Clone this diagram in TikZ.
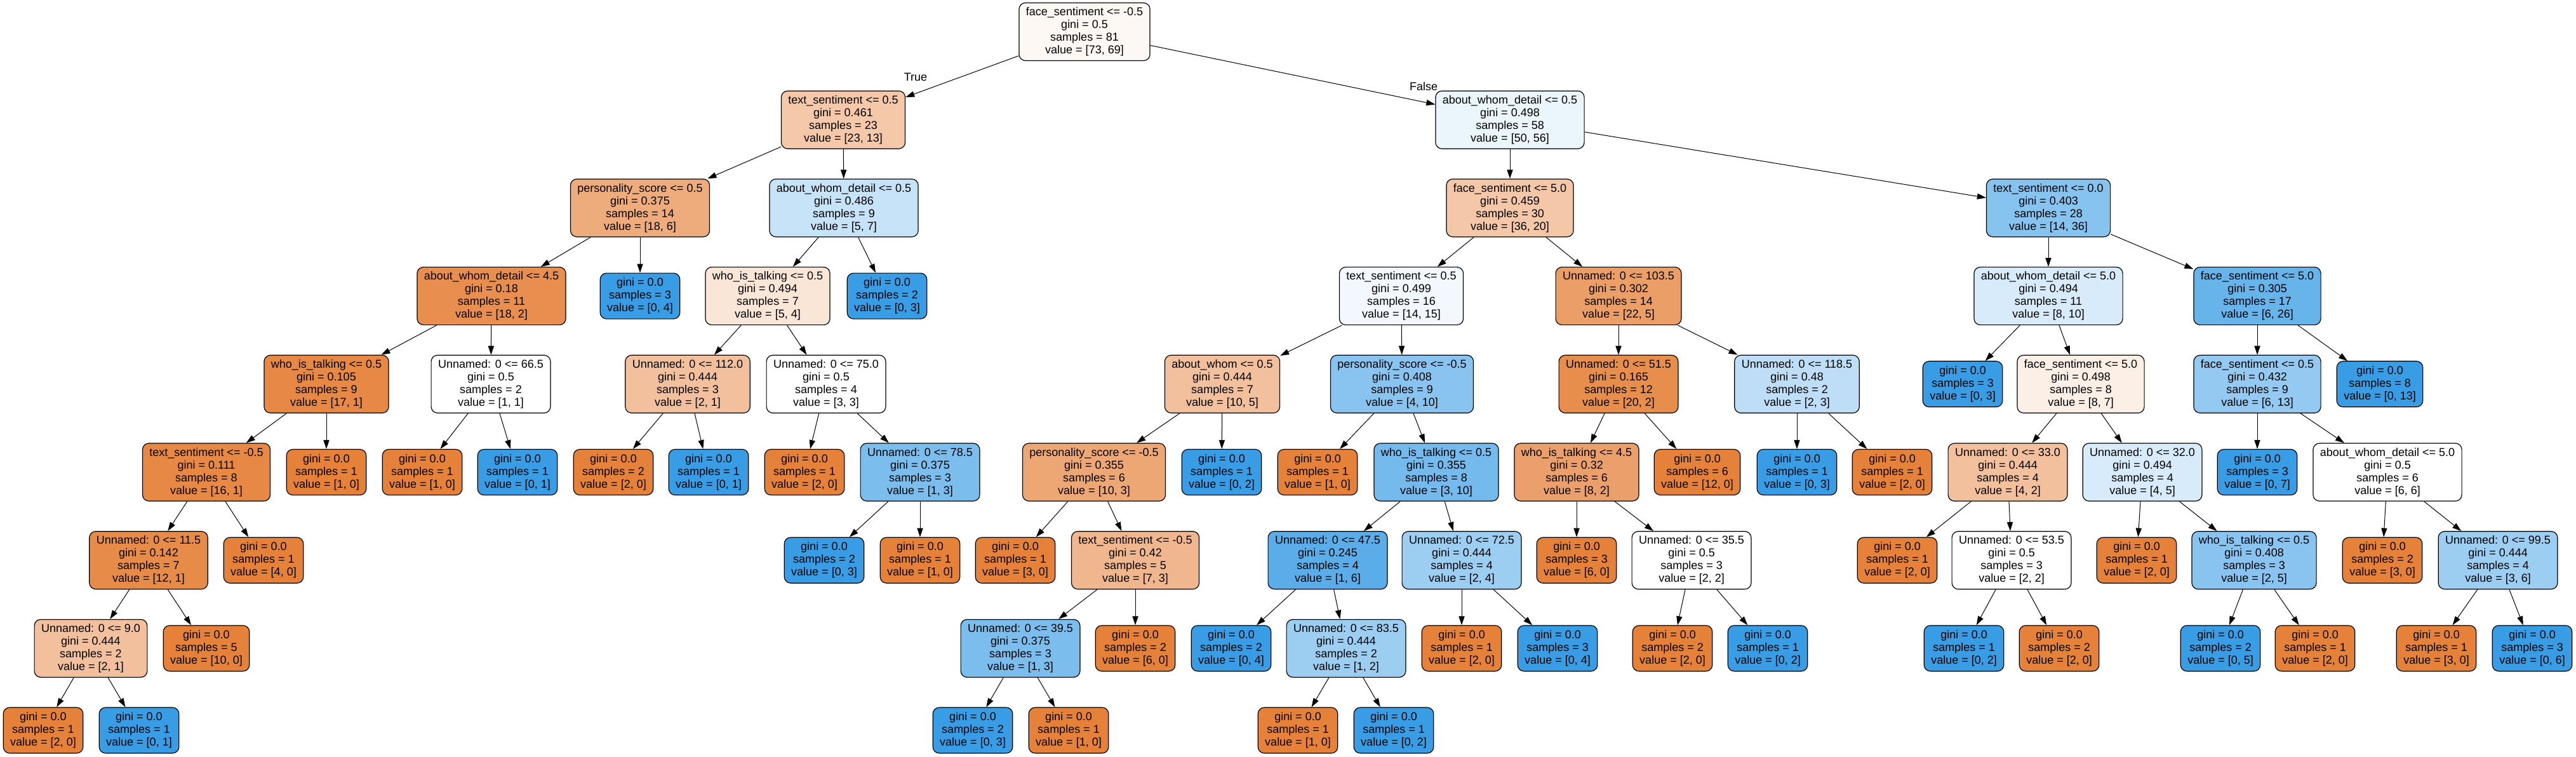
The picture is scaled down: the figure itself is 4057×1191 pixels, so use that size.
\documentclass[tikz,border=0pt]{standalone}
\usepackage{fontspec}
\setmainfont{Liberation Sans}
\usetikzlibrary{arrows.meta}
\definecolor{oc}{RGB}{229,129,57}
\definecolor{bc}{RGB}{57,157,229}
\begin{document}
\begin{tikzpicture}[x=0.5pt,y=-0.5pt,
  tn/.style={draw=black, line width=0.6pt, rounded corners=5pt, align=center,
    inner xsep=5.5pt, inner ysep=0pt, font=\fontsize{9}{10}\selectfont},
  split/.style={tn, minimum height=45.5pt},
  leafn/.style={tn, minimum height=36pt},
  fo/.style={fill=oc!#1!white},
  fb/.style={fill=bc!#1!white},
  arr/.style={-{Triangle[length=7pt,width=4.6pt]}, line width=0.5pt},
  lab/.style={font=\fontsize{9}{10}\selectfont, inner sep=0pt}]
\useasboundingbox (0,0) rectangle (4057,1191);
\fill[white] (0,0) rectangle (4057,1191);
% level 0
\node[split,fo=5.48] (n0) at (1708,50) {face\_sentiment <= -0.5\\gini = 0.5\\samples = 81\\value = [73, 69]};
% level 1
\node[split,fo=43.48] (n1) at (1328,188.7) {text\_sentiment <= 0.5\\gini = 0.461\\samples = 23\\value = [23, 13]};
\node[split,fb=10.71] (n2) at (2378,188.7) {about\_whom\_detail <= 0.5\\gini = 0.498\\samples = 58\\value = [50, 56]};
% level 2
\node[split,fo=66.67] (n3) at (1008,327.4) {personality\_score <= 0.5\\gini = 0.375\\samples = 14\\value = [18, 6]};
\node[split,fb=28.57] (n4) at (1329,327.4) {about\_whom\_detail <= 0.5\\gini = 0.486\\samples = 9\\value = [5, 7]};
\node[split,fo=44.44] (n5) at (2378,327.4) {face\_sentiment <= 5.0\\gini = 0.459\\samples = 30\\value = [36, 20]};
\node[split,fb=61.11] (n6) at (3226,327.4) {text\_sentiment <= 0.0\\gini = 0.403\\samples = 28\\value = [14, 36]};
% level 3
\node[split,fo=88.89] (n7) at (774,466.1) {about\_whom\_detail <= 4.5\\gini = 0.18\\samples = 11\\value = [18, 2]};
\node[leafn,fb=100] (n8) at (1008,466.1) {gini = 0.0\\samples = 3\\value = [0, 4]};
\node[split,fo=20] (n9) at (1209,466.1) {who\_is\_talking <= 0.5\\gini = 0.494\\samples = 7\\value = [5, 4]};
\node[leafn,fb=100] (n10) at (1397,466.1) {gini = 0.0\\samples = 2\\value = [0, 3]};
\node[split,fb=6.67] (n11) at (2207,466.1) {text\_sentiment <= 0.5\\gini = 0.499\\samples = 16\\value = [14, 15]};
\node[split,fo=77.27] (n12) at (2549,466.1) {Unnamed: 0 <= 103.5\\gini = 0.302\\samples = 14\\value = [22, 5]};
\node[split,fb=20] (n13) at (3226,466.1) {about\_whom\_detail <= 5.0\\gini = 0.494\\samples = 11\\value = [8, 10]};
\node[split,fb=76.92] (n14) at (3555,466.1) {face\_sentiment <= 5.0\\gini = 0.305\\samples = 17\\value = [6, 26]};
% level 4
\node[split,fo=94.12] (n15) at (514,604.8) {who\_is\_talking <= 0.5\\gini = 0.105\\samples = 9\\value = [17, 1]};
\node[split,fill=white] (n16) at (773,604.8) {Unnamed: 0 <= 66.5\\gini = 0.5\\samples = 2\\value = [1, 1]};
\node[split,fo=50] (n17) at (1083,604.8) {Unnamed: 0 <= 112.0\\gini = 0.444\\samples = 3\\value = [2, 1]};
\node[split,fill=white] (n18) at (1301,604.8) {Unnamed: 0 <= 75.0\\gini = 0.5\\samples = 4\\value = [3, 3]};
\node[split,fo=50] (n19) at (1925,604.8) {about\_whom <= 0.5\\gini = 0.444\\samples = 7\\value = [10, 5]};
\node[split,fb=60] (n20) at (2208,604.8) {personality\_score <= -0.5\\gini = 0.408\\samples = 9\\value = [4, 10]};
\node[split,fo=90] (n21) at (2549,604.8) {Unnamed: 0 <= 51.5\\gini = 0.165\\samples = 12\\value = [20, 2]};
\node[split,fb=33.33] (n22) at (2830,604.8) {Unnamed: 0 <= 118.5\\gini = 0.48\\samples = 2\\value = [2, 3]};
\node[leafn,fb=100] (n23) at (3091,604.8) {gini = 0.0\\samples = 3\\value = [0, 3]};
\node[split,fo=12.5] (n24) at (3277,604.8) {face\_sentiment <= 5.0\\gini = 0.498\\samples = 8\\value = [8, 7]};
\node[split,fb=53.85] (n25) at (3555,604.8) {face\_sentiment <= 0.5\\gini = 0.432\\samples = 9\\value = [6, 13]};
\node[leafn,fb=100] (n26) at (3748,604.8) {gini = 0.0\\samples = 8\\value = [0, 13]};
% level 5
\node[split,fo=93.75] (n27) at (325,743.5) {text\_sentiment <= -0.5\\gini = 0.111\\samples = 8\\value = [16, 1]};
\node[leafn,fo=100] (n28) at (514,743.5) {gini = 0.0\\samples = 1\\value = [1, 0]};
\node[leafn,fo=100] (n29) at (665,743.5) {gini = 0.0\\samples = 1\\value = [1, 0]};
\node[leafn,fb=100] (n30) at (815,743.5) {gini = 0.0\\samples = 1\\value = [0, 1]};
\node[leafn,fo=100] (n31) at (966,743.5) {gini = 0.0\\samples = 2\\value = [2, 0]};
\node[leafn,fb=100] (n32) at (1116,743.5) {gini = 0.0\\samples = 1\\value = [0, 1]};
\node[leafn,fo=100] (n33) at (1267,743.5) {gini = 0.0\\samples = 1\\value = [2, 0]};
\node[split,fb=66.67] (n34) at (1449,743.5) {Unnamed: 0 <= 78.5\\gini = 0.375\\samples = 3\\value = [1, 3]};
\node[split,fo=70] (n35) at (1723,743.5) {personality\_score <= -0.5\\gini = 0.355\\samples = 6\\value = [10, 3]};
\node[leafn,fb=100] (n36) at (1924,743.5) {gini = 0.0\\samples = 1\\value = [0, 2]};
\node[leafn,fo=100] (n37) at (2075,743.5) {gini = 0.0\\samples = 1\\value = [1, 0]};
\node[split,fb=70] (n38) at (2262,743.5) {who\_is\_talking <= 0.5\\gini = 0.355\\samples = 8\\value = [3, 10]};
\node[split,fo=75] (n39) at (2483,743.5) {who\_is\_talking <= 4.5\\gini = 0.32\\samples = 6\\value = [8, 2]};
\node[leafn,fo=100] (n40) at (2673,743.5) {gini = 0.0\\samples = 6\\value = [12, 0]};
\node[leafn,fb=100] (n41) at (2830,743.5) {gini = 0.0\\samples = 1\\value = [0, 3]};
\node[leafn,fo=100] (n42) at (2980,743.5) {gini = 0.0\\samples = 1\\value = [2, 0]};
\node[split,fo=50] (n43) at (3162,743.5) {Unnamed: 0 <= 33.0\\gini = 0.444\\samples = 4\\value = [4, 2]};
\node[split,fb=20] (n44) at (3374,743.5) {Unnamed: 0 <= 32.0\\gini = 0.494\\samples = 4\\value = [4, 5]};
\node[leafn,fb=100] (n45) at (3555,743.5) {gini = 0.0\\samples = 3\\value = [0, 7]};
\node[split,fill=white] (n46) at (3760,743.5) {about\_whom\_detail <= 5.0\\gini = 0.5\\samples = 6\\value = [6, 6]};
% level 6
\node[split,fo=91.67] (n47) at (234,882.2) {Unnamed: 0 <= 11.5\\gini = 0.142\\samples = 7\\value = [12, 1]};
\node[leafn,fo=100] (n48) at (415,882.2) {gini = 0.0\\samples = 1\\value = [4, 0]};
\node[leafn,fb=100] (n49) at (1298,882.2) {gini = 0.0\\samples = 2\\value = [0, 3]};
\node[leafn,fo=100] (n50) at (1449,882.2) {gini = 0.0\\samples = 1\\value = [1, 0]};
\node[leafn,fo=100] (n51) at (1599,882.2) {gini = 0.0\\samples = 1\\value = [3, 0]};
\node[split,fo=57.14] (n52) at (1788,882.2) {text\_sentiment <= -0.5\\gini = 0.42\\samples = 5\\value = [7, 3]};
\node[split,fb=83.33] (n53) at (2091,882.2) {Unnamed: 0 <= 47.5\\gini = 0.245\\samples = 4\\value = [1, 6]};
\node[split,fb=50] (n54) at (2302,882.2) {Unnamed: 0 <= 72.5\\gini = 0.444\\samples = 4\\value = [2, 4]};
\node[leafn,fo=100] (n55) at (2483,882.2) {gini = 0.0\\samples = 3\\value = [6, 0]};
\node[split,fill=white] (n56) at (2664,882.2) {Unnamed: 0 <= 35.5\\gini = 0.5\\samples = 3\\value = [2, 2]};
\node[leafn,fo=100] (n57) at (2988,882.2) {gini = 0.0\\samples = 1\\value = [2, 0]};
\node[split,fill=white] (n58) at (3168,882.2) {Unnamed: 0 <= 53.5\\gini = 0.5\\samples = 3\\value = [2, 2]};
\node[leafn,fo=100] (n59) at (3365,882.2) {gini = 0.0\\samples = 1\\value = [2, 0]};
\node[split,fb=60] (n60) at (3550,882.2) {who\_is\_talking <= 0.5\\gini = 0.408\\samples = 3\\value = [2, 5]};
\node[leafn,fo=100] (n61) at (3752,882.2) {gini = 0.0\\samples = 2\\value = [3, 0]};
\node[split,fb=50] (n62) at (3934,882.2) {Unnamed: 0 <= 99.5\\gini = 0.444\\samples = 4\\value = [3, 6]};
% level 7
\node[split,fo=50] (n63) at (143,1020.9) {Unnamed: 0 <= 9.0\\gini = 0.444\\samples = 2\\value = [2, 1]};
\node[leafn,fo=100] (n64) at (325,1020.9) {gini = 0.0\\samples = 5\\value = [10, 0]};
\node[split,fb=66.67] (n65) at (1607,1020.9) {Unnamed: 0 <= 39.5\\gini = 0.375\\samples = 3\\value = [1, 3]};
\node[leafn,fo=100] (n66) at (1788,1020.9) {gini = 0.0\\samples = 2\\value = [6, 0]};
\node[leafn,fb=100] (n67) at (1939,1020.9) {gini = 0.0\\samples = 2\\value = [0, 4]};
\node[split,fb=50] (n68) at (2120,1020.9) {Unnamed: 0 <= 83.5\\gini = 0.444\\samples = 2\\value = [1, 2]};
\node[leafn,fo=100] (n69) at (2302,1020.9) {gini = 0.0\\samples = 1\\value = [2, 0]};
\node[leafn,fb=100] (n70) at (2453,1020.9) {gini = 0.0\\samples = 3\\value = [0, 4]};
\node[leafn,fo=100] (n71) at (2634,1020.9) {gini = 0.0\\samples = 2\\value = [2, 0]};
\node[leafn,fb=100] (n72) at (2784,1020.9) {gini = 0.0\\samples = 1\\value = [0, 2]};
\node[leafn,fb=100] (n73) at (3093,1020.9) {gini = 0.0\\samples = 1\\value = [0, 2]};
\node[leafn,fo=100] (n74) at (3243,1020.9) {gini = 0.0\\samples = 2\\value = [2, 0]};
\node[leafn,fb=100] (n75) at (3497,1020.9) {gini = 0.0\\samples = 2\\value = [0, 5]};
\node[leafn,fo=100] (n76) at (3646,1020.9) {gini = 0.0\\samples = 1\\value = [2, 0]};
\node[leafn,fo=100] (n77) at (3837,1020.9) {gini = 0.0\\samples = 1\\value = [3, 0]};
\node[leafn,fb=100] (n78) at (3988,1020.9) {gini = 0.0\\samples = 3\\value = [0, 6]};
% level 8
\node[leafn,fo=100] (n79) at (68,1150) {gini = 0.0\\samples = 1\\value = [2, 0]};
\node[leafn,fb=100] (n80) at (219,1150) {gini = 0.0\\samples = 1\\value = [0, 1]};
\node[leafn,fb=100] (n81) at (1532,1150) {gini = 0.0\\samples = 2\\value = [0, 3]};
\node[leafn,fo=100] (n82) at (1683,1150) {gini = 0.0\\samples = 1\\value = [1, 0]};
\node[leafn,fo=100] (n83) at (2044,1150) {gini = 0.0\\samples = 1\\value = [1, 0]};
\node[leafn,fb=100] (n84) at (2195,1150) {gini = 0.0\\samples = 1\\value = [0, 2]};
% edge labels
\node[lab] (ltrue) at (1442,121) {True};
\node[lab] (lfalse) at (2242,136) {False};
% edges
\foreach \p/\c in {n0/n1,n0/n2,n1/n3,n1/n4,n2/n5,n2/n6,n3/n7,n3/n8,n4/n9,n4/n10,
  n5/n11,n5/n12,n6/n13,n6/n14,n7/n15,n7/n16,n9/n17,n9/n18,n11/n19,n11/n20,
  n12/n21,n12/n22,n13/n23,n13/n24,n14/n25,n14/n26,n15/n27,n15/n28,n16/n29,n16/n30,
  n17/n31,n17/n32,n18/n33,n18/n34,n19/n35,n19/n36,n20/n37,n20/n38,n21/n39,n21/n40,
  n22/n41,n22/n42,n24/n43,n24/n44,n25/n45,n25/n46,n27/n47,n27/n48,n34/n49,n34/n50,
  n35/n51,n35/n52,n38/n53,n38/n54,n39/n55,n39/n56,n43/n57,n43/n58,n44/n59,n44/n60,
  n46/n61,n46/n62,n47/n63,n47/n64,n52/n65,n52/n66,n53/n67,n53/n68,n54/n69,n54/n70,
  n56/n71,n56/n72,n58/n73,n58/n74,n60/n75,n60/n76,n62/n77,n62/n78,n63/n79,n63/n80,
  n65/n81,n65/n82,n68/n83,n68/n84}
  \draw[arr] (\p) -- (\c);
\end{tikzpicture}
\end{document}
